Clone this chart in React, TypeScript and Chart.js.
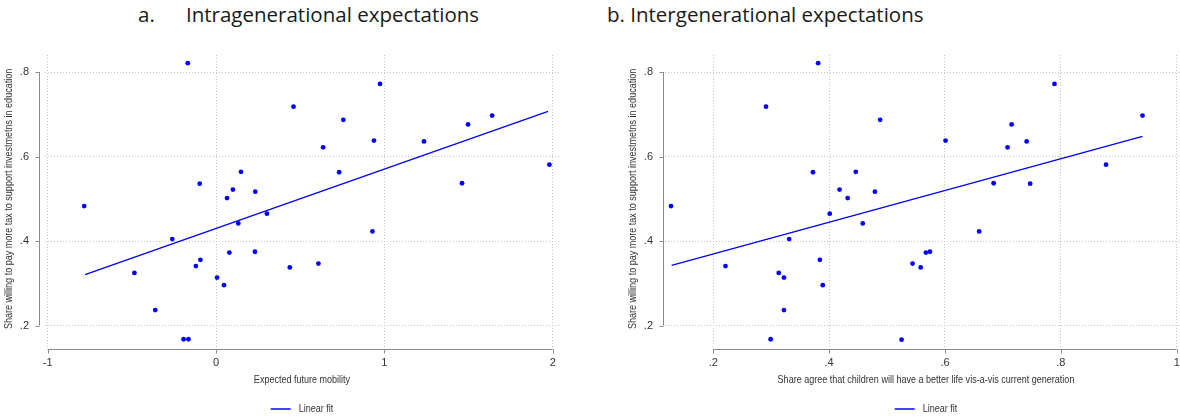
import React, { useEffect, useRef } from "react";
import { Chart, registerables } from "chart.js";

Chart.register(...registerables);

// ---------- Panel a: intragenerational expectations ----------
const intraX = [
  -0.783, -0.168, 0.46, 0.148, -0.097, 0.1, 0.065, 0.233, 0.132, 0.302, -0.26, 0.079,
  0.231, -0.093, -0.12, -0.485, 0.006, 0.047, 0.438, -0.361, -0.193, -0.164, 0.974,
  0.756, 0.938, 0.636, 1.235, 1.497, 1.64, 1.98, 0.731, 1.461, 0.929, 0.608,
];
const intraY = [
  0.483, 0.821, 0.718, 0.564, 0.536, 0.522, 0.502, 0.517, 0.442, 0.465, 0.405, 0.373,
  0.375, 0.356, 0.341, 0.325, 0.314, 0.296, 0.338, 0.237, 0.168, 0.168, 0.772,
  0.687, 0.638, 0.622, 0.636, 0.676, 0.697, 0.581, 0.563, 0.537, 0.423, 0.347,
];
const intraFitX = [-0.778, 1.972];
const intraFitY = [0.321, 0.707];
const intraXTicks = [-1, 0, 1, 2];
const intraXTickLabels = ["-1", "0", "1", "2"];
const intraXTitle = "Expected future mobility";
const intraTitleLetter = "a.";
const intraTitle = "Intragenerational expectations";

// ---------- Panel b: intergenerational expectations ----------
const interX = [
  0.127, 0.381, 0.291, 0.488, 0.372, 0.446, 0.418, 0.432, 0.479, 0.401, 0.458, 0.331,
  0.221, 0.384, 0.313, 0.322, 0.389, 0.322, 0.299, 0.525, 0.789, 0.941, 0.601,
  0.715, 0.708, 0.741, 0.878, 0.684, 0.747, 0.659, 0.544, 0.558, 0.567, 0.574,
];
const interY = [
  0.483, 0.821, 0.718, 0.687, 0.563, 0.564, 0.522, 0.502, 0.517, 0.465, 0.442, 0.405,
  0.341, 0.356, 0.325, 0.314, 0.296, 0.237, 0.168, 0.167, 0.772, 0.697, 0.638,
  0.676, 0.622, 0.636, 0.581, 0.537, 0.536, 0.423, 0.347, 0.338, 0.373, 0.375,
];
const interFitX = [0.128, 0.941];
const interFitY = [0.343, 0.648];
const interXTicks = [0.2, 0.4, 0.6, 0.8, 1];
const interXTickLabels = [".2", ".4", ".6", ".8", "1"];
const interXTitle = "Share agree that children will have a better life vis-a-vis current generation";
const interTitle = "b. Intergenerational expectations";

// ---------- shared ----------
const yTicks = [0.2, 0.4, 0.6, 0.8];
const yTickLabels = [".2", ".4", ".6", ".8"];
const yTitle = "Share willing to pay more tax to support investmetns in education";
const legendLabel = "Linear fit";

const BLUE = "#0000ff";
const NARROW = '"Liberation Sans Narrow", "Arial Narrow", "Liberation Sans", Arial, sans-serif';
const TEXT = "#333333";
const AXIS = "#8a8a8a";

let condense: number | null = null;
function getCondense(ctx: CanvasRenderingContext2D) {
  if (condense !== null) return condense;
  ctx.save();
  ctx.font = '11px "Liberation Sans Narrow", "Liberation Sans"';
  const a = ctx.measureText("Expected future mobility").width;
  ctx.font = '11px "Liberation Sans"';
  const b = ctx.measureText("Expected future mobility").width;
  ctx.restore();
  condense = Math.abs(a - b) < 0.5 ? 0.82 : 1;
  return condense;
}

function drawCondensed(
  ctx: CanvasRenderingContext2D,
  text: string,
  x: number,
  y: number,
  size: number,
  align: CanvasTextAlign,
  rotate = 0
) {
  const k = getCondense(ctx);
  ctx.save();
  ctx.translate(x, y);
  if (rotate) ctx.rotate(rotate);
  ctx.scale(k, 1);
  ctx.font = `${size}px ${NARROW}`;
  ctx.fillStyle = TEXT;
  ctx.textAlign = align;
  ctx.textBaseline = "alphabetic";
  ctx.fillText(text, 0, 0);
  ctx.restore();
}

interface PanelCfg {
  left: number;
  width: number;
  xs: number[];
  ys: number[];
  fitX: number[];
  fitY: number[];
  xTicks: number[];
  xTickLabels: string[];
  xMin: number;
  xMax: number;
  xTitle: string;
  yAxisWidth: number;
  padRight: number;
  yAxisGap: number;
  yTickPad: number;
}

const stataPlugin = {
  id: "stataAxes",
  afterDraw(chart: any, _args: any, opts: any) {
    const ctx: CanvasRenderingContext2D = chart.ctx;
    const area = chart.chartArea;
    const xs = chart.scales.x;
    const ys = chart.scales.y;
    const cfg: PanelCfg = opts.cfg;

    ctx.save();
    ctx.strokeStyle = AXIS;
    ctx.lineWidth = 1;
    // y axis line + ticks
    const ax = Math.round(area.left - cfg.yAxisGap) + 0.5;
    const yTop = ys.getPixelForValue(yTicks[yTicks.length - 1]);
    const yBot = ys.getPixelForValue(yTicks[0]);
    ctx.beginPath();
    ctx.moveTo(ax, yTop);
    ctx.lineTo(ax, yBot);
    yTicks.forEach((v) => {
      const p = Math.round(ys.getPixelForValue(v)) + 0.5;
      ctx.moveTo(ax - 4, p);
      ctx.lineTo(ax, p);
    });
    ctx.stroke();
    // x axis line + ticks
    const ay = Math.round(area.bottom) + 0.5;
    const xL = xs.getPixelForValue(cfg.xTicks[0]);
    const xR = xs.getPixelForValue(cfg.xTicks[cfg.xTicks.length - 1]);
    ctx.beginPath();
    ctx.moveTo(xL, ay);
    ctx.lineTo(xR, ay);
    cfg.xTicks.forEach((v) => {
      const p = Math.round(xs.getPixelForValue(v)) + 0.5;
      ctx.moveTo(p, ay);
      ctx.lineTo(p, ay + 4);
    });
    ctx.stroke();
    ctx.restore();

    const cx = (area.left + area.right) / 2;
    // x title
    drawCondensed(ctx, cfg.xTitle, cx, 383, 11, "center");
    // y title
    const cy = (yTop + yBot) / 2;
    drawCondensed(ctx, yTitle, ax - 28, cy, 11, "center", -Math.PI / 2);

    // legend
    const k = getCondense(ctx);
    ctx.save();
    ctx.font = `11px ${NARROW}`;
    const tw = ctx.measureText(legendLabel).width * k;
    ctx.restore();
    const lineLen = 20;
    const gap = 8;
    const total = lineLen + gap + tw;
    const lx = cx - total / 2;
    ctx.save();
    ctx.strokeStyle = BLUE;
    ctx.lineWidth = 1.5;
    ctx.beginPath();
    ctx.moveTo(lx, 409);
    ctx.lineTo(lx + lineLen, 409);
    ctx.stroke();
    ctx.restore();
    drawCondensed(ctx, legendLabel, lx + lineLen + gap, 411.5, 11, "left");
  },
};

function Panel({ cfg }: { cfg: PanelCfg }) {
  const ref = useRef<HTMLCanvasElement>(null);
  useEffect(() => {
    if (!ref.current) return;
    const chart = new Chart(ref.current, {
      type: "scatter",
      data: {
        datasets: [
          {
            label: "points",
            data: cfg.xs.map((x, i) => ({ x, y: cfg.ys[i] })),
            pointRadius: 2.4,
            pointHoverRadius: 2.4,
            backgroundColor: BLUE,
            borderColor: BLUE,
            borderWidth: 0,
            showLine: false,
          },
          {
            label: legendLabel,
            data: cfg.fitX.map((x, i) => ({ x, y: cfg.fitY[i] })),
            showLine: true,
            borderColor: BLUE,
            borderWidth: 1.3,
            pointRadius: 0,
            fill: false,
            tension: 0,
          },
        ],
      },
      options: {
        responsive: false,
        animation: false,
        devicePixelRatio: 1,
        layout: { padding: { top: 55, right: cfg.padRight, left: 0, bottom: 0 } },
        plugins: {
          legend: { display: false },
          tooltip: { enabled: false },
          stataAxes: { cfg },
        } as any,
        scales: {
          x: {
            type: "linear",
            min: cfg.xMin,
            max: cfg.xMax,
            afterBuildTicks: (s: any) => {
              s.ticks = cfg.xTicks.map((v) => ({ value: v }));
            },
            afterFit: (s: any) => {
              s.height = 71;
            },
            border: { display: false, dash: [1, 2] },
            grid: { drawTicks: false, color: "#c4c4c4", lineWidth: 1 },
            ticks: {
              autoSkip: false,
              maxRotation: 0,
              padding: 7,
              color: TEXT,
              font: { family: NARROW, size: 11 },
              callback: (_v: any, i: number) => cfg.xTickLabels[i],
            },
          },
          y: {
            type: "linear",
            min: 0.145,
            max: 0.8403,
            afterBuildTicks: (s: any) => {
              s.ticks = yTicks.map((v) => ({ value: v }));
            },
            afterFit: (s: any) => {
              s.width = cfg.yAxisWidth;
            },
            border: { display: false, dash: [1, 2] },
            grid: { drawTicks: false, color: "#c4c4c4", lineWidth: 1 },
            ticks: {
              autoSkip: false,
              padding: cfg.yTickPad,
              color: TEXT,
              font: { family: NARROW, size: 11 },
              callback: (_v: any, i: number) => yTickLabels[i],
            },
          },
        },
      },
      plugins: [stataPlugin],
    } as any);
    return () => chart.destroy();
  }, [cfg]);
  return (
    <canvas
      ref={ref}
      width={cfg.width}
      height={420}
      style={{ position: "absolute", left: cfg.left, top: 0, width: cfg.width, height: 420 }}
    />
  );
}

const leftCfg: PanelCfg = {
  left: 0,
  width: 590,
  xs: intraX,
  ys: intraY,
  fitX: intraFitX,
  fitY: intraFitY,
  xTicks: intraXTicks,
  xTickLabels: intraXTickLabels,
  xMin: -1.016,
  xMax: 2.037,
  xTitle: intraXTitle,
  yAxisWidth: 45,
  padRight: 31,
  yAxisGap: 6,
  yTickPad: 16,
};

const rightCfg: PanelCfg = {
  left: 600,
  width: 600,
  xs: interX,
  ys: interY,
  fitX: interFitX,
  fitY: interFitY,
  xTicks: interXTicks,
  xTickLabels: interXTickLabels,
  xMin: 0.1166,
  xMax: 1.0178,
  xTitle: interXTitle,
  yAxisWidth: 65,
  padRight: 13,
  yAxisGap: 2,
  yTickPad: 12,
};

const titleStyle: React.CSSProperties = {
  position: "absolute",
  top: 3,
  fontFamily: "'Open Sans', 'Noto Sans', sans-serif",
  fontSize: 20.5,
  lineHeight: "22px",
  color: "#1a1a1a",
  whiteSpace: "nowrap",
};

export default function App() {
  return (
    <div
      style={{
        position: "fixed",
        left: 0,
        top: 0,
        width: 1180,
        height: 420,
        overflow: "hidden",
        background: "#ffffff",
      }}
    >
      <div style={{ ...titleStyle, left: 138 }}>{intraTitleLetter}</div>
      <div style={{ ...titleStyle, left: 186 }}>{intraTitle}</div>
      <div style={{ ...titleStyle, left: 607 }}>{interTitle}</div>
      <Panel cfg={leftCfg} />
      <Panel cfg={rightCfg} />
    </div>
  );
}
